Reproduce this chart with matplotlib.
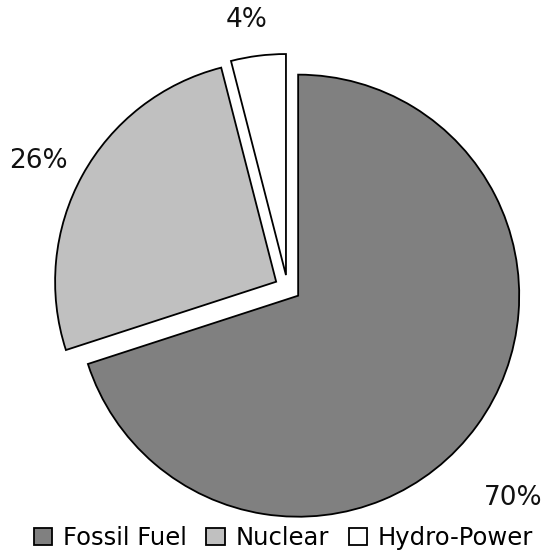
import matplotlib.pyplot as plt
import numpy as np

# energy mix shares (%)
sources = ['Fossil Fuel', 'Nuclear', 'Hydro-Power']
shares = [70, 26, 4]
colors = ['#808080', '#C0C0C0', '#FFFFFF']

# label placement (distance in radii, angle in deg) as Excel put them
lab_dist = [1.394, 1.267, 1.226]
lab_ang = [-43.0, 153.0, 98.6]

plt.rcParams['font.family'] = ['DejaVu Sans']

fig = plt.figure(figsize=(5.48, 5.59), dpi=100)
ax = fig.add_axes([0, 0, 1, 1])

wedges, texts, autotexts = ax.pie(
    shares, colors=colors, startangle=90, counterclock=False,
    explode=[0.059] * 3, autopct='%.0f%%', pctdistance=1.25,
    wedgeprops=dict(edgecolor='black', linewidth=1.3),
    textprops=dict(fontsize=19, color='#111111'))

for t, d, a in zip(autotexts, lab_dist, lab_ang):
    t.set_position((d * np.cos(np.radians(a)), d * np.sin(np.radians(a))))

ax.set_xlim(-1.301, 1.178)
ax.set_ylim(-1.226, 1.303)
ax.set_aspect('auto')
ax.axis('off')

fig.legend(wedges, sources, loc='center', ncol=3, frameon=False,
           bbox_to_anchor=(283.5 / 548, 21 / 559), fontsize=17.5,
           handlelength=0.75, handleheight=0.75, handletextpad=0.45,
           columnspacing=0.8, borderpad=0)

plt.savefig('out.png', dpi=100)
